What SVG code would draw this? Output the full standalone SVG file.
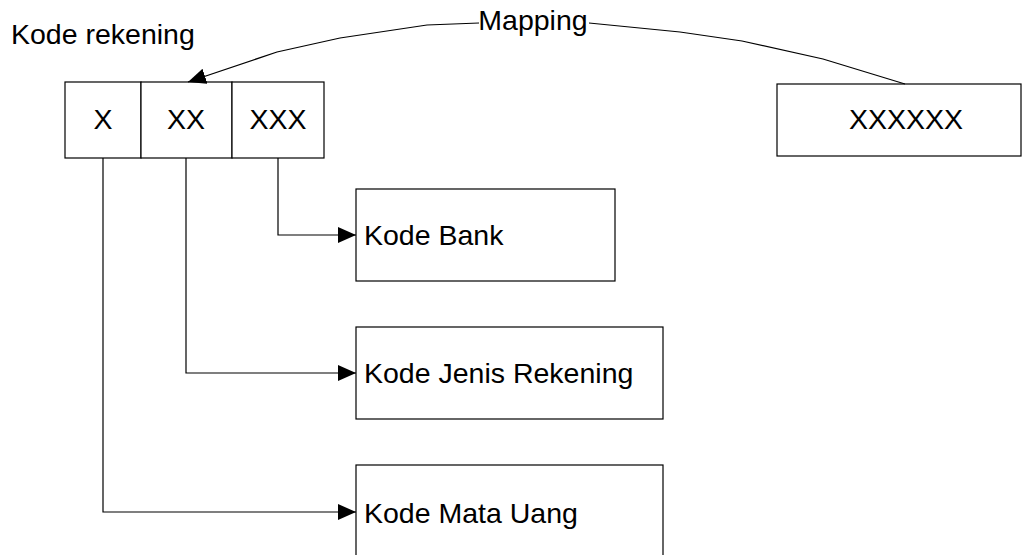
<svg xmlns="http://www.w3.org/2000/svg" width="1024" height="555" viewBox="0 0 1024 555">
  <style>
    .box { fill: #ffffff; stroke: #000000; stroke-width: 1.2; }
    .lbl { font-family: "Liberation Sans", Arial, sans-serif; font-size: 28.5px; fill: #000000; }
    .mid { text-anchor: middle; }
    .conn { fill: none; stroke: #000000; stroke-width: 1.2; }
  </style>
  <defs>
    <marker id="arrow" markerUnits="userSpaceOnUse" markerWidth="20" markerHeight="18" refX="18" refY="8" orient="auto">
      <path d="M0,0 L18,8 L0,16 Z" fill="#000000"/>
    </marker>
  </defs>
  <rect width="1024" height="555" fill="#ffffff"/>

  <text class="lbl" x="11" y="44">Kode rekening</text>

  <g id="kode-rekening">
    <rect class="box" x="65" y="82" width="76" height="76"/>
    <text class="lbl mid" x="103" y="129">X</text>
    <rect class="box" x="141" y="82" width="91" height="76"/>
    <text class="lbl mid" x="186" y="129">XX</text>
    <rect class="box" x="232" y="82" width="92" height="76"/>
    <text class="lbl mid" x="278" y="129">XXX</text>
  </g>

  <g id="xxxxxx">
    <rect class="box" x="777" y="84" width="244" height="72"/>
    <text class="lbl mid" x="906" y="129">XXXXXX</text>
  </g>

  <g id="kode-bank">
    <rect class="box" x="356" y="189" width="259" height="92"/>
    <text class="lbl" x="364" y="245">Kode Bank</text>
  </g>

  <g id="kode-jenis-rekening">
    <rect class="box" x="356" y="327" width="307" height="92"/>
    <text class="lbl" x="364" y="383">Kode Jenis Rekening</text>
  </g>

  <g id="kode-mata-uang">
    <rect class="box" x="356" y="465" width="307" height="100"/>
    <text class="lbl" x="364" y="523">Kode Mata Uang</text>
  </g>

  <g id="connectors">
    <path class="conn" d="M278,158 V235 H356" marker-end="url(#arrow)"/>
    <path class="conn" d="M186,158 V373 H356" marker-end="url(#arrow)"/>
    <path class="conn" d="M103,158 V512 H356" marker-end="url(#arrow)"/>
    <path class="conn" d="M905,84 L823,59 L742,41 L680,32 L589,23"/>
    <path class="conn" d="M479,23 L427,25 L340,38 L277,52 L188,82" marker-end="url(#arrow)"/>
    <text class="lbl mid" x="533" y="30">Mapping</text>
  </g>
</svg>
